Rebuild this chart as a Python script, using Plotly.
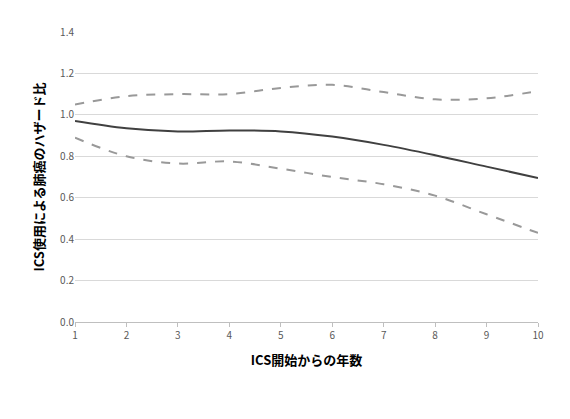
import plotly.graph_objects as go

years = [1, 2, 3, 4, 5, 6, 7, 8, 9, 10]
hr = [0.97, 0.935, 0.92, 0.925, 0.92, 0.895, 0.855, 0.805, 0.75, 0.695]
upper = [1.05, 1.09, 1.10, 1.10, 1.13, 1.145, 1.11, 1.075, 1.08, 1.115]
lower = [0.89, 0.80, 0.765, 0.775, 0.74, 0.70, 0.665, 0.61, 0.52, 0.43]

fig = go.Figure()
fig.add_trace(go.Scatter(x=years, y=upper, mode="lines", line=dict(color="#999999", width=2, dash="dash", shape="spline")))
fig.add_trace(go.Scatter(x=years, y=lower, mode="lines", line=dict(color="#999999", width=2, dash="dash", shape="spline")))
fig.add_trace(go.Scatter(x=years, y=hr, mode="lines", line=dict(color="#404040", width=2, shape="spline")))

font = "Noto Sans CJK JP"
fig.update_layout(
    width=570, height=419, showlegend=False,
    plot_bgcolor="white", paper_bgcolor="white",
    margin=dict(l=67, r=40, t=24, b=105),
    font=dict(family=font),
    xaxis=dict(range=[1, 10], tickvals=years, showgrid=False, showline=True, linecolor="#bfbfbf",
               ticks="outside", tickcolor="#bfbfbf", ticklen=4, tickfont=dict(size=10, color="#595959"),
               title=dict(text="<b>ICS開始からの年数</b>", font=dict(size=13, color="black"), standoff=14), zeroline=False),
    yaxis=dict(range=[0, 1.4], dtick=0.2, tickformat=".1f", showgrid=True, gridcolor="#d9d9d9",
               tickfont=dict(size=10, color="#595959"), zeroline=False,
               title=dict(text="<b>ICS使用による肺癌のハザード比</b>", font=dict(size=13, color="black"), standoff=12)),
)
fig.write_html("out.html")
